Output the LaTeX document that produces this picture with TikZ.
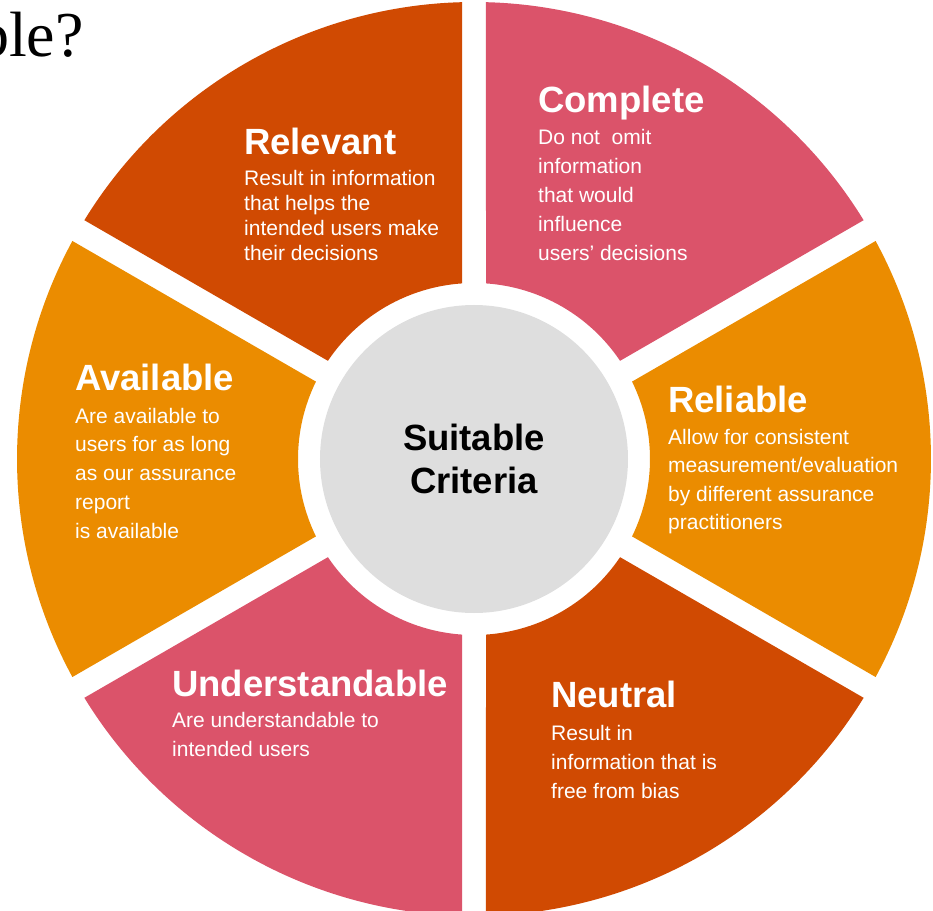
\documentclass[tikz,border=0pt]{standalone}
\usepackage{fontspec}
\setmainfont{Liberation Sans}
\newfontfamily\slidefont{Liberation Serif}
\usepackage{xcolor}
\usetikzlibrary{positioning}
\definecolor{wheeldark}{HTML}{D04A02}
\definecolor{wheelorange}{HTML}{EB8C00}
\definecolor{wheelrose}{HTML}{DB536A}
\definecolor{wheelhub}{HTML}{DEDEDE}
\newcommand{\wheelout}{457}
\newcommand{\wheelin}{176}
\newcommand{\wheelgap}{12}
% ring piece between two angles, trimmed by half the gap on both sides
\newcommand{\wheelsector}[3]{%
  \path[fill=#3]
    ({#1+asin(\wheelgap/\wheelout)}:\wheelout)
      arc[start angle={#1+asin(\wheelgap/\wheelout)}, end angle={#2-asin(\wheelgap/\wheelout)}, radius=\wheelout]
    -- ({#2-asin(\wheelgap/\wheelin)}:\wheelin)
      arc[start angle={#2-asin(\wheelgap/\wheelin)}, end angle={#1+asin(\wheelgap/\wheelin)}, radius=\wheelin]
    -- cycle;}

\begin{document}
\begin{tikzpicture}[
    x=1pt, y=1pt,
    nosep/.style={inner sep=0},
    heading/.style={nosep, anchor=base west, text=white, font=\fontsize{36.5}{40}\selectfont\bfseries},
    blurb/.style={nosep, anchor=base west, text=white, align=left, font=\fontsize{21}{29}\selectfont},
    hub/.style={circle, nosep, fill=wheelhub, minimum size=308, align=center, font=\fontsize{36.5}{43}\selectfont\bfseries}]
\useasboundingbox (-474,-451) rectangle (459,459);

\wheelsector{90}{150}{wheeldark}
\wheelsector{30}{90}{wheelrose}
\wheelsector{-30}{30}{wheelorange}
\wheelsector{-90}{-30}{wheeldark}
\wheelsector{210}{270}{wheelrose}
\wheelsector{150}{210}{wheelorange}

\node[hub] (hub) at (0,0) {Suitable\\Criteria};

% blurbs sit on the baseline of their last line
\node[heading] (relevant) at (-230,304) {Relevant};
\node[blurb, font=\fontsize{21}{24.7}\selectfont] (relevant-txt) at ([yshift=-105.1]relevant.base west) {Result in information\\that helps the\\intended users make\\their decisions};

\node[heading] (complete) at (64,346) {Complete};
\node[blurb] (complete-txt) at ([yshift=-148]complete.base west) {Do not\ \ omit\\information\\that would\\influence\\users’ decisions};

\node[heading] (reliable) at (194,47) {Reliable};
\node[blurb, font=\fontsize{21}{28.5}\selectfont] (reliable-txt) at ([yshift=-117.5]reliable.base west) {Allow for consistent\\measurement/evaluation\\by different assurance\\practitioners};

\node[heading] (neutral) at (77,-248) {Neutral};
\node[blurb] (neutral-txt) at ([yshift=-91]neutral.base west) {Result in\\information that is\\free from bias};

\node[heading] (understandable) at (-302,-237) {Understandable};
\node[blurb] (understandable-txt) at ([yshift=-60]understandable.base west) {Are understandable to\\intended users};

\node[heading] (available) at (-399,69) {Available};
\node[blurb, font=\fontsize{21}{28.75}\selectfont] (available-txt) at ([yshift=-148]available.base west) {Are available to\\users for as long\\as our assurance\\report\\is available};

\node[nosep, anchor=base east, font=\slidefont\fontsize{64}{64}\selectfont] (slidetitle) at (-390,402) {ble?};

\end{tikzpicture}
\end{document}
